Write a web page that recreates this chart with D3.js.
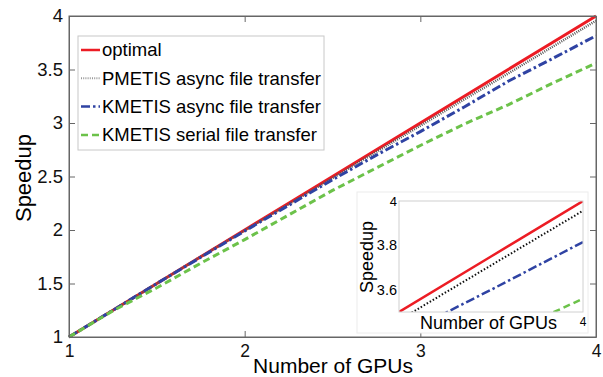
<!DOCTYPE html>
<html>
<head>
<meta charset="utf-8">
<script src="https://cdn.jsdelivr.net/npm/d3@7"></script>
<style>
  body { margin: 0; background: #fff; }
  svg { display: block; font-family: "Liberation Sans", Arial, sans-serif; }
  .axis path, .axis line { stroke: #666; }
  .axis text { fill: #111; }
</style>
</head>
<body>
<svg width="603" height="377"></svg>
<script>
// GPUs (x) and measured speedups per partitioning / transfer scheme
var gpus      = [1, 1.25, 1.5, 1.75, 2, 2.25, 2.5, 2.75, 3, 3.25, 3.5, 3.75, 4];
var optimal   = [1, 1.25, 1.5, 1.75, 2, 2.25, 2.5, 2.75, 3, 3.25, 3.5, 3.75, 4];
var pmetisAsync = [1, 1.25, 1.5, 1.75, 1.995, 2.24, 2.485, 2.73, 2.975, 3.22, 3.463, 3.71, 3.956];
var kmetisAsync = [1, 1.25, 1.5, 1.745, 1.99, 2.23, 2.47, 2.70, 2.92, 3.15, 3.39, 3.60, 3.815];
var kmetisSerial = [1, 1.245, 1.46, 1.69, 1.91, 2.14, 2.37, 2.58, 2.79, 2.99, 3.17, 3.37, 3.56];

var xTicks = [1, 2, 3, 4];
var yTicks = [1, 1.5, 2, 2.5, 3, 3.5, 4];
var yTickLabels = ["1", "1.5", "2", "2.5", "3", "3.5", "4"];
var insetYTicks = [3.6, 3.8, 4];
var insetYTickLabels = ["3.6", "3.8", "4"];

var seriesNames = ["optimal", "PMETIS async file transfer", "KMETIS async file transfer", "KMETIS serial file transfer"];

var svg = d3.select("svg");

var margin = {top: 16, right: 7, bottom: 40, left: 69},
    width = 603 - margin.left - margin.right,
    height = 377 - margin.top - margin.bottom;

var x = d3.scaleLinear().domain([1, 4]).range([margin.left, margin.left + width]),
    y = d3.scaleLinear().domain([1, 4]).range([margin.top + height, margin.top]);

var series = [
  {name: seriesNames[0], values: optimal,      color: "#ec1c24", width: 3,   dash: null},
  {name: seriesNames[1], values: pmetisAsync,  color: "#555",    width: 2.5, dash: "1,1.2"},
  {name: seriesNames[2], values: kmetisAsync,  color: "#2f43a3", width: 3,   dash: "9,3,2.5,3"},
  {name: seriesNames[3], values: kmetisSerial, color: "#6cc24a", width: 3,   dash: "7,4"}
];

function lineFor(sx, sy) {
  return function(vals) {
    return d3.line()
      .x(function(d, i) { return sx(gpus[i]); })
      .y(function(d) { return sy(d); })(vals);
  };
}

// white plot background + frame
svg.append("rect")
    .attr("x", x(1)).attr("y", y(4))
    .attr("width", width).attr("height", height)
    .attr("fill", "#fff");

var mainLine = lineFor(x, y);
svg.append("g").selectAll("path")
  .data(series)
  .enter().append("path")
    .attr("d", function(d) { return mainLine(d.values); })
    .attr("fill", "none")
    .attr("stroke", function(d) { return d.color; })
    .attr("stroke-width", function(d) { return d.width; })
    .attr("stroke-dasharray", function(d) { return d.dash; });

// axes, ticks inward like matlab
svg.append("g")
    .attr("class", "axis")
    .attr("transform", "translate(0," + y(1) + ")")
    .call(d3.axisBottom(x).tickValues(xTicks).tickSize(-6).tickSizeOuter(0).tickPadding(8).tickFormat(d3.format("d")))
    .selectAll("text").style("font-size", "17.5px");

svg.append("g")
    .attr("class", "axis")
    .attr("transform", "translate(" + x(1) + ",0)")
    .call(d3.axisLeft(y).tickValues(yTicks).tickSize(-6).tickSizeOuter(0).tickPadding(6)
      .tickFormat(function(d, i) { return yTickLabels[i]; }))
    .selectAll("text").style("font-size", "18.5px");

svg.append("g")
    .attr("class", "axis")
    .attr("transform", "translate(0," + y(4) + ")")
    .call(d3.axisTop(x).tickValues(xTicks).tickSize(-6).tickSizeOuter(0).tickFormat(""));

svg.append("g")
    .attr("class", "axis")
    .attr("transform", "translate(" + x(4) + ",0)")
    .call(d3.axisRight(y).tickValues(yTicks).tickSize(-6).tickSizeOuter(0).tickFormat(""));

svg.append("rect")
    .attr("x", x(1)).attr("y", y(4))
    .attr("width", width).attr("height", height)
    .attr("fill", "none").attr("stroke", "#666");

svg.append("text")
    .attr("x", 333).attr("y", 373)
    .attr("text-anchor", "middle")
    .style("font-size", "21px")
    .text("Number of GPUs");

svg.append("text")
    .attr("transform", "translate(31,178) rotate(-90)")
    .attr("text-anchor", "middle")
    .style("font-size", "22px")
    .text("Speedup");

// legend
var legend = svg.append("g");
legend.append("rect")
    .attr("x", 78).attr("y", 36)
    .attr("width", 246).attr("height", 114)
    .attr("fill", "#fff").attr("stroke", "#c8c8c8");

var item = legend.selectAll(".item")
  .data(series)
  .enter().append("g")
    .attr("class", "item")
    .attr("transform", function(d, i) { return "translate(0," + (50 + i * 28.3) + ")"; });

item.append("line")
    .attr("x1", 81).attr("x2", 100)
    .attr("stroke", function(d) { return d.name === seriesNames[1] ? "#999" : d.color; })
    .attr("stroke-width", function(d) { return d.width - 0.5; })
    .attr("stroke-dasharray", function(d) { return d.dash; });

item.append("text")
    .attr("x", 102).attr("dy", "0.35em")
    .style("font-size", "18.5px")
    .text(function(d) { return d.name; });

// inset zoom on the last half GPU
var xi = d3.scaleLinear().domain([3.5, 4]).range([399, 583]),
    yi = d3.scaleLinear().domain([3.5, 4]).range([312, 201]);

var inset = svg.append("g");
inset.append("rect")
    .attr("x", 357).attr("y", 192)
    .attr("width", 231).attr("height", 141)
    .attr("fill", "#fff").attr("stroke", "#ececec");

inset.append("clipPath").attr("id", "insetclip")
  .append("rect")
    .attr("x", xi(3.5)).attr("y", yi(4))
    .attr("width", xi(4) - xi(3.5)).attr("height", yi(3.5) - yi(4));

var insetLine = lineFor(xi, yi);
inset.append("g")
    .attr("clip-path", "url(#insetclip)")
  .selectAll("path")
  .data(series)
  .enter().append("path")
    .attr("d", function(d) { return insetLine(d.values); })
    .attr("fill", "none")
    .attr("stroke", function(d) { return d.name === seriesNames[1] ? "#111" : d.color; })
    .attr("stroke-width", function(d) { return d.name === seriesNames[1] ? 2 : d.width - 0.5; })
    .attr("stroke-dasharray", function(d) { return d.name === seriesNames[1] ? "1.5,2" : d.dash; });

inset.append("rect")
    .attr("x", xi(3.5)).attr("y", yi(4))
    .attr("width", xi(4) - xi(3.5)).attr("height", yi(3.5) - yi(4))
    .attr("fill", "none").attr("stroke", "#d0d0d0");

inset.selectAll(".iy")
  .data(insetYTicks)
  .enter().append("text")
    .attr("class", "iy")
    .attr("x", xi(3.5) - 2)
    .attr("y", function(d) { return yi(d); })
    .attr("dy", "0.35em")
    .attr("text-anchor", "end")
    .style("font-size", function(d) { return d === 4 ? "13px" : "14.5px"; })
    .text(function(d, i) { return insetYTickLabels[i]; });

inset.append("text")
    .attr("x", xi(4)).attr("y", 322)
    .attr("dy", "0.35em")
    .attr("text-anchor", "middle")
    .style("font-size", "12px")
    .text("4");

inset.append("text")
    .attr("x", 420).attr("y", 329)
    .style("font-size", "18px")
    .text("Number of GPUs");

inset.append("text")
    .attr("transform", "translate(373,257) rotate(-90)")
    .attr("text-anchor", "middle")
    .style("font-size", "18px")
    .text("Speedup");
</script>
</body>
</html>
